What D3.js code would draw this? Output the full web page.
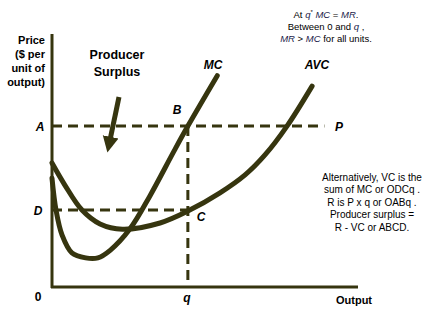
<!DOCTYPE html>
<html>
<head>
<meta charset="utf-8">
<script src="https://cdn.jsdelivr.net/npm/d3@7"></script>
<style>
  body { margin: 0; background: #fff; }
  svg { display: block; font-family: Arial, "Liberation Sans", sans-serif; }
</style>
</head>
<body>
<svg id="chart" width="434" height="310"></svg>
<script>
// curve points (output, price)
const mcOutput = [0, 0.13, 0.33, 0.65, 1.1, 1.5, 1.9, 2.55, 3.2, 4.0, 4.44, 5.4];
const mcPrice  = [4.3, 3.05, 2.05, 1.35, 1.15, 1.15, 1.45, 2.3, 3.6, 5.4, 6.36, 8.35];
const avcOutput = [0, 0.42, 0.98, 1.57, 2.3, 3.53, 4.44, 5.49, 6.31, 6.96, 7.68, 8.5];
const avcPrice  = [4.9, 4.03, 3.04, 2.49, 2.28, 2.53, 3.0, 3.72, 4.43, 5.22, 6.36, 7.94];

const qStar = 4.44;   // output where MC = P
const priceP = 6.36;  // market price, level A
const priceD = 3.04;  // AVC at q*, level D
const pLineEnd = 8.9;

const ink = "#36350f";

const svg = d3.select("#chart");

const x = d3.scaleLinear().domain([0, 10]).range([52, 358]);
const y = d3.scaleLinear().domain([0, 10]).range([287, 34]);

const line = d3.line()
  .x(d => x(d[0]))
  .y(d => y(d[1]))
  .curve(d3.curveCatmullRom.alpha(0.5));

// dashed guides
const dash = svg.append("g")
  .attr("stroke", ink)
  .attr("stroke-width", 3)
  .attr("stroke-dasharray", "10,6")
  .attr("fill", "none");

dash.append("line")
  .attr("x1", x(0)).attr("x2", x(pLineEnd))
  .attr("y1", y(priceP)).attr("y2", y(priceP));
dash.append("line")
  .attr("x1", x(0)).attr("x2", x(qStar))
  .attr("y1", y(priceD)).attr("y2", y(priceD));
dash.append("line")
  .attr("x1", x(qStar)).attr("x2", x(qStar))
  .attr("y1", y(priceP)).attr("y2", y(0));

// axes
svg.append("line")
  .attr("x1", x(0)).attr("x2", x(0))
  .attr("y1", y(10)).attr("y2", y(0) + 1)
  .attr("stroke", ink).attr("stroke-width", 3);
svg.append("line")
  .attr("x1", x(0) - 1).attr("x2", x(10))
  .attr("y1", y(0)).attr("y2", y(0))
  .attr("stroke", ink).attr("stroke-width", 3);

// curves
svg.append("path")
  .datum(mcOutput.map((v, i) => [v, mcPrice[i]]))
  .attr("d", line)
  .attr("fill", "none")
  .attr("stroke", ink)
  .attr("stroke-width", 5)
  .attr("stroke-linecap", "round");

svg.append("path")
  .datum(avcOutput.map((v, i) => [v, avcPrice[i]]))
  .attr("d", line)
  .attr("fill", "none")
  .attr("stroke", ink)
  .attr("stroke-width", 5)
  .attr("stroke-linecap", "round");

// arrow pointing at the surplus area
svg.append("defs").append("marker")
  .attr("id", "head")
  .attr("viewBox", "0 0 10 10")
  .attr("refX", 2).attr("refY", 5)
  .attr("markerWidth", 3.2).attr("markerHeight", 3.6)
  .attr("markerUnits", "strokeWidth")
  .attr("orient", "auto")
  .append("path")
  .attr("d", "M0,0 L10,5 L0,10 Z")
  .attr("fill", ink);

svg.append("line")
  .attr("x1", 119).attr("y1", 97)
  .attr("x2", 110).attr("y2", 140)
  .attr("stroke", ink)
  .attr("stroke-width", 5)
  .attr("marker-end", "url(#head)");

// labels
const bold = (t, px, py, anchor, size, italic) => svg.append("text")
  .attr("x", px).attr("y", py)
  .attr("text-anchor", anchor || "start")
  .attr("font-size", size || 12)
  .attr("font-weight", "bold")
  .attr("font-style", italic ? "italic" : "normal")
  .attr("fill", "#000")
  .text(t);

["Price", "($ per", "unit of", "output)"].forEach((t, i) =>
  bold(t, 45, 44 + i * 14, "end", 11));

bold("Producer", 117, 59, "middle", 12.5);
bold("Surplus", 117, 76, "middle", 12.5);

bold("MC", 213, 69, "middle", 12, true);
bold("AVC", 317, 69, "middle", 12, true);
bold("A", 40, 131, "middle", 12, true);
bold("D", 38, 215, "middle", 12, true);
bold("B", 177, 114, "middle", 12, true);
bold("C", 201, 221, "middle", 12, true);
bold("P", 339, 131, "middle", 12, true);
bold("0", 38, 301, "middle", 12);
bold("q", 187, 302, "middle", 12, true);
bold("Output", 354, 304, "middle", 11);

// notes
const note = (py, cx, parts) => {
  const t = svg.append("text")
    .attr("x", cx).attr("y", py)
    .attr("text-anchor", "middle")
    .attr("font-size", 9.5)
    .attr("fill", "#000");
  parts.forEach(p => {
    const s = t.append("tspan").text(p[0]);
    if (p[1] === "i") s.attr("font-style", "italic").attr("fill", "#1a1a4a");
    if (p[1] === "sup") s.attr("font-size", 6).attr("dy", -4);
    if (p[1] === "back") s.attr("dy", 4);
  });
};

note(18, 326, [["At "], ["q", "i"], ["*", "sup"], ["  ", "back"], ["MC", "i"], [" = "], ["MR", "i"], ["."]]);
note(30, 326, [["Between 0 and "], ["q", "i"], [" ,"]]);
note(42, 326, [["MR", "i"], [" > "], ["MC", "i"], [" for all units."]]);

const right = [
  "Alternatively, VC is the",
  "sum of MC or ODCq*.",
  "R is P x q* or OABq*.",
  "Producer surplus =",
  "R - VC or ABCD."
];
right.forEach((t, i) => svg.append("text")
  .attr("x", 372).attr("y", 181 + i * 12.4)
  .attr("text-anchor", "middle")
  .attr("font-size", 10)
  .attr("fill", "#000")
  .text(t.replace(/\*/g, " ")));
</script>
</body>
</html>
